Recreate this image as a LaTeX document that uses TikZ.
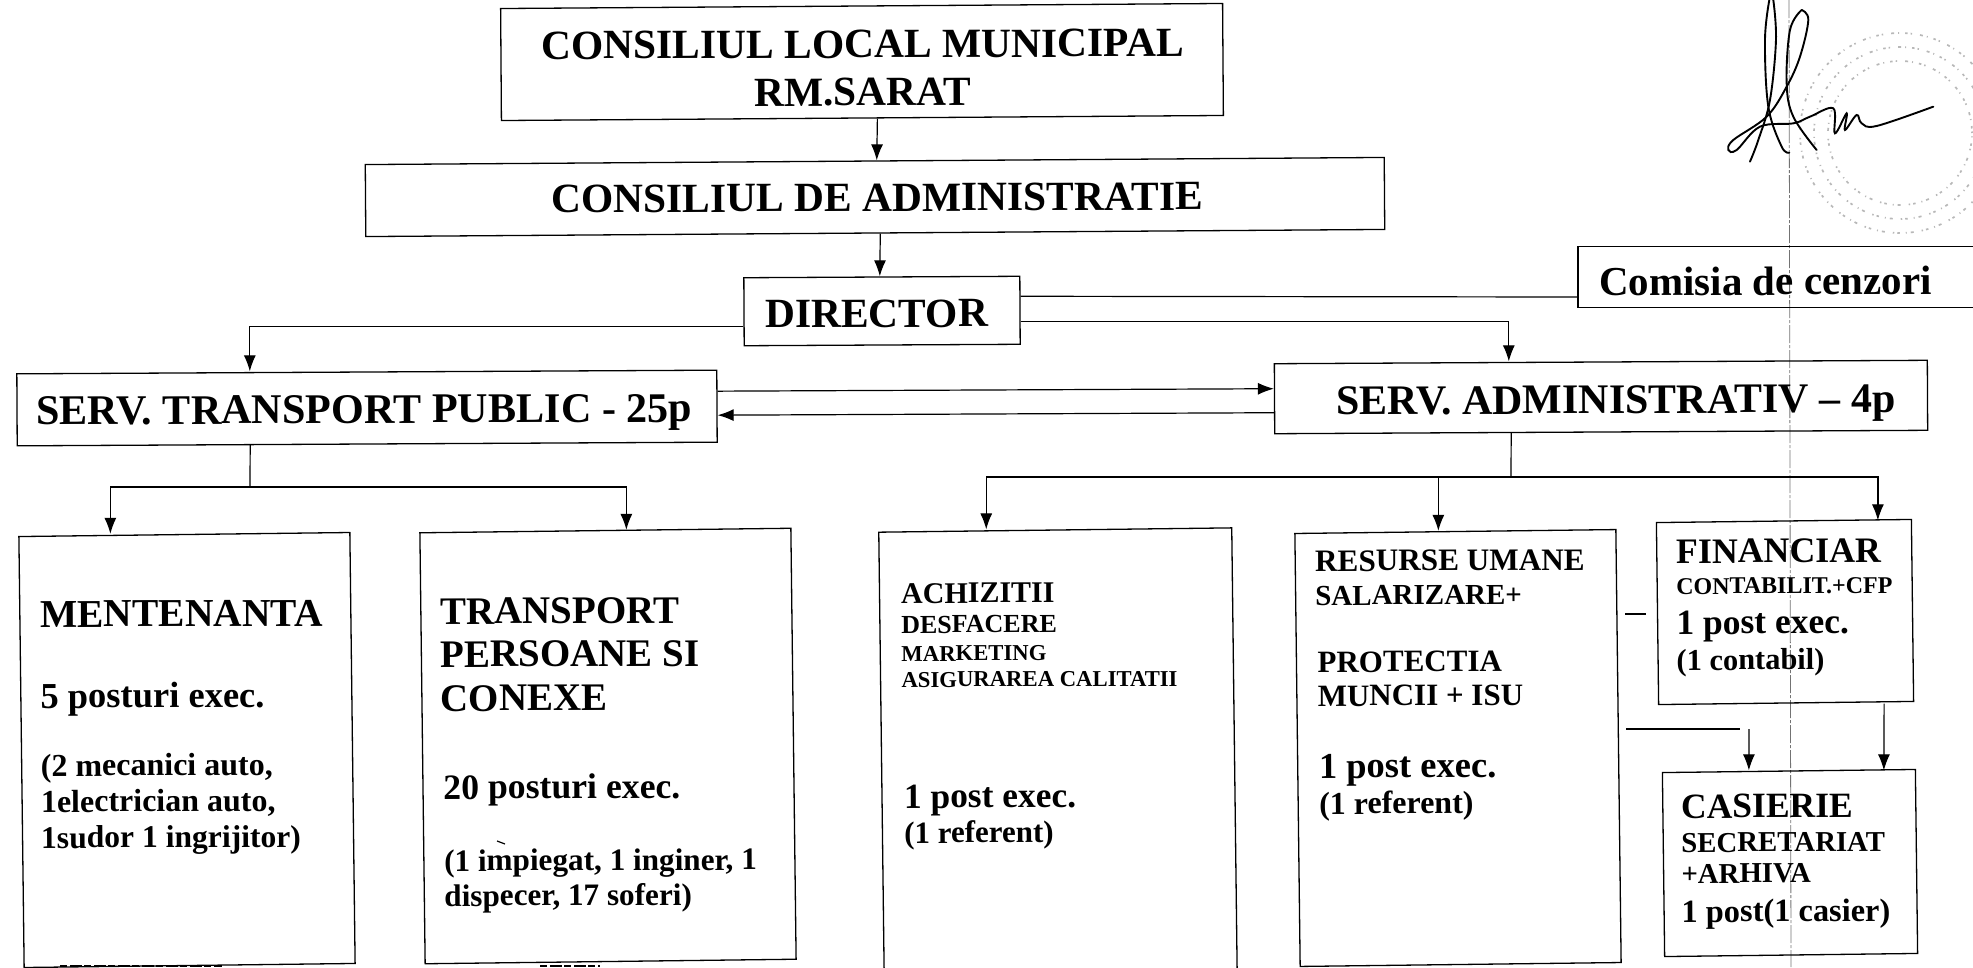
\documentclass[tikz,border=0pt]{standalone}
\usepackage{fontspec}
\setmainfont{Liberation Serif}
\usetikzlibrary{arrows.meta}
\newcommand\sz[1]{\fontsize{#1}{#1}\selectfont}
% one text line: gap to previous baseline, font size, text
\newcommand\tl[3]{\kern#1pt\hbox{\sz{#2}\smash{#3}}}
\newcommand\tlc[3]{\kern#1pt\hbox to 645pt{\hss\sz{#2}\smash{#3}\hss}}
\newcommand\lines[1]{\vtop{\offinterlineskip #1}}
\tikzset{
  x=1pt,y=-1pt,
  boxn/.style={draw=black,line width=1.3pt,fill=none,inner sep=0pt,rotate=#1},
  boxn/.default=0.6,
  link/.style={line width=1.2pt,black},
  arr/.style={link,-{Latex[length=16pt,width=12pt]}},
  txt/.style={anchor=north west,inner sep=0pt,font=\bfseries,rotate=0.25},
  fold/.style={line width=.8pt,black!55,dash pattern=on 18pt off 2pt on 3pt off 2pt},
  sig/.style={line width=1.9pt,black,line cap=round},
  stamp/.style={black!28,line width=1.7pt,dash pattern=on 1.5pt off 3pt on 2.5pt off 6pt on 1pt off 4pt on 3pt off 8pt},
  scan/.style={line width=2.2pt,black,dash pattern=on 7pt off 3pt on 12pt off 2pt}
}
\begin{document}
\begin{tikzpicture}
\useasboundingbox (0,0) rectangle (1973,967);
% fold line, stamp, signature
\coordinate (foldtop) at (1789,0);
\coordinate (foldbot) at (1791,967);
\draw[fold] (foldtop) -- (foldbot);
\draw[stamp] (1900,133) circle[radius=100pt];
\draw[stamp] (1900,133) circle[radius=86pt];
\draw[stamp] (1900,133) circle[radius=72pt];
\begin{scope}[shift={(1500,0)},x=0.3333pt,y=-0.3333pt]
\draw[sig] plot[smooth,tension=.6] coordinates {(808,0)(795,120)(805,320)(845,440)(868,458)};
\draw[sig] plot[smooth,tension=.6] coordinates {(820,0)(828,120)(810,300)(775,420)(750,485)};
\draw[sig] plot[smooth,tension=.6] coordinates {(905,30)(870,90)(860,250)(880,350)(950,450)};
\draw[sig] plot[smooth,tension=.6] coordinates {(905,30)(925,60)(900,170)(860,260)(800,350)(700,420)(685,450)(710,450)(780,380)(880,370)(930,350)(1000,325)(1005,400)(1040,340)(1035,390)(1070,345)(1085,370)(1130,378)(1300,320)};
\end{scope}
% boxes
\node[boxn=0.4,minimum width=722pt,minimum height=112pt] (cl) at (862,62) {};
\node[boxn=0.4,minimum width=1019pt,minimum height=72pt] (ca) at (875,197) {};
\node[boxn=0.3,minimum width=276pt,minimum height=68pt] (dir) at (882,311) {};
\node[boxn=0.0,minimum width=460pt,minimum height=61pt] (com) at (1808,277) {};
\node[boxn=0.3,minimum width=700pt,minimum height=72pt] (stp) at (367,408) {};
\node[boxn=0.3,minimum width=653pt,minimum height=70pt] (sad) at (1601,397) {};
\node[boxn=0.7,minimum width=331pt,minimum height=431pt] (men) at (187,750) {};
\node[boxn=0.7,minimum width=371pt,minimum height=431pt] (tra) at (608,746) {};
\node[boxn=0.7,minimum width=353pt,minimum height=450pt] (ach) at (1058,755) {};
\node[boxn=0.7,minimum width=321pt,minimum height=433pt] (res) at (1458,748) {};
\node[boxn=0.7,minimum width=255pt,minimum height=182pt] (fin) at (1785,612) {};
\node[boxn=0.7,minimum width=253pt,minimum height=184pt] (cas) at (1790,863) {};
% box texts (node placed at the first baseline)
\node[txt] (tcl) at (540,59) {\lines{\tlc{0}{41.5}{CONSILIUL LOCAL MUNICIPAL}\tlc{48}{41.5}{RM.SARAT}}};
\node[txt] (tca) at (551,212) {\lines{\tl{0}{41.5}{CONSILIUL DE ADMINISTRATIE}}};
\node[txt] (tdir) at (765,327) {\lines{\tl{0}{41.5}{DIRECTOR}}};
\node[txt] (tcom) at (1599,295) {\lines{\tl{0}{41}{Comisia de cenzori}}};
\node[txt] (tstp) at (36,424) {\lines{\tl{0}{42.2}{SERV. TRANSPORT PUBLIC - 25p}}};
\node[txt] (tsad) at (1336,414) {\lines{\tl{0}{42}{SERV. ADMINISTRATIV -- 4p}}};
\node[txt] (tmen) at (40,627) {\lines{\tl{0}{39.5}{MENTENANTA}\tl{81}{36.5}{5 posturi exec.}\tl{68}{32}{(2 mecanici auto,}\tl{36}{32}{1electrician auto,}\tl{36}{31.6}{1sudor 1 ingrijitor)}}};
\node[txt] (ttra) at (440,624) {\lines{\tl{0}{39}{TRANSPORT}\tl{43}{39}{PERSOANE SI}\tl{44}{39}{CONEXE}\tl{88}{35.7}{\hspace*{2.5pt}20 posturi exec.}\tl{72}{31.2}{\hspace*{3pt}(1 impiegat, 1 inginer, 1}\tl{35}{31.2}{\hspace*{3pt}dispecer, 17 soferi)}}};
\node[txt] (tach) at (901,603) {\lines{\tl{0}{30}{ACHIZITII}\tl{30}{26}{DESFACERE}\tl{28}{22.7}{MARKETING}\tl{26}{22.7}{ASIGURAREA CALITATII}\tl{121}{35.4}{\hspace*{2pt}1 post exec.}\tl{35}{31}{\hspace*{2pt}(1 referent)}}};
\node[txt] (tres) at (1315,571) {\lines{\tl{0}{31.2}{RESURSE UMANE}\tl{34}{29}{SALARIZARE+}\tl{67}{31}{\hspace*{2pt}PROTECTIA}\tl{34}{31}{\hspace*{2pt}MUNCII + ISU}\tl{72}{36.5}{\hspace*{3pt}1 post exec.}\tl{36}{32}{\hspace*{3pt}(1 referent)}}};
\node[txt] (tfin) at (1676,563) {\lines{\tl{0}{35.8}{FINANCIAR}\tl{31}{24}{CONTABILIT.+CFP}\tl{40}{35.5}{1 post exec.}\tl{36}{30.4}{(1 contabil)}}};
\node[txt] (tcas) at (1681,818) {\lines{\tl{0}{35.5}{CASIERIE}\tl{34}{28.8}{SECRETARIAT}\tl{31}{28.8}{+ARHIVA}\tl{39}{32.4}{1 post(1 casier)}}};
% connectors
\draw[arr] ([xshift=15pt]cl.south) -- ([xshift=2pt]ca.north);
\draw[arr] ([xshift=5pt]ca.south) -- ([xshift=-2pt]dir.north);
\draw[arr] ([yshift=-15pt]dir.west) -| ([xshift=-117pt]stp.north);
\draw[link] ([yshift=14pt]dir.east) -- ([yshift=-20pt]com.west);
\draw[arr] ([yshift=-11pt]dir.east) -| ([xshift=-92pt]sad.north);
\draw[arr] ([yshift=15pt]stp.east) -- ([yshift=10pt]sad.west);
\draw[arr] ([yshift=-14pt]sad.west) -- ([yshift=-9pt]stp.east);
\coordinate (jt) at (250,487);
\draw[link] ([xshift=-117pt]stp.south) -- (jt);
\draw[arr] (jt) -| ([xshift=-74pt]men.north);
\draw[arr] (jt) -| ([xshift=21pt]tra.north);
\coordinate (js) at (1511,477);
\draw[link] ([xshift=-90pt]sad.south) -- (js);
\draw[arr] (js) -| ([xshift=-69pt]ach.north);
\draw[arr] (js) -| ([xshift=-17pt]res.north);
\draw[arr] (js) -| ([xshift=94pt]fin.north);
\coordinate (st0) at (1625,614);
\coordinate (st1) at (1646,614);
\draw[link] (st0) -- (st1);
\coordinate (st4) at (1626,729);
\coordinate (st2) at (1740,729);
\coordinate (st3) at (1749,729);
\draw[link] (st4) -- (st2);
\draw[arr] (st3) -- ([xshift=-40pt]cas.north);
\draw[arr] ([xshift=98pt]fin.south) -- ([xshift=95pt]cas.north);
% scan residue along the cut lower edge
\draw[scan] (60,966) -- (222,966);
\draw[scan] (540,966) -- (600,966);
\draw[line width=1.2pt] (497,841) -- (505,844);
\end{tikzpicture}
\end{document}
